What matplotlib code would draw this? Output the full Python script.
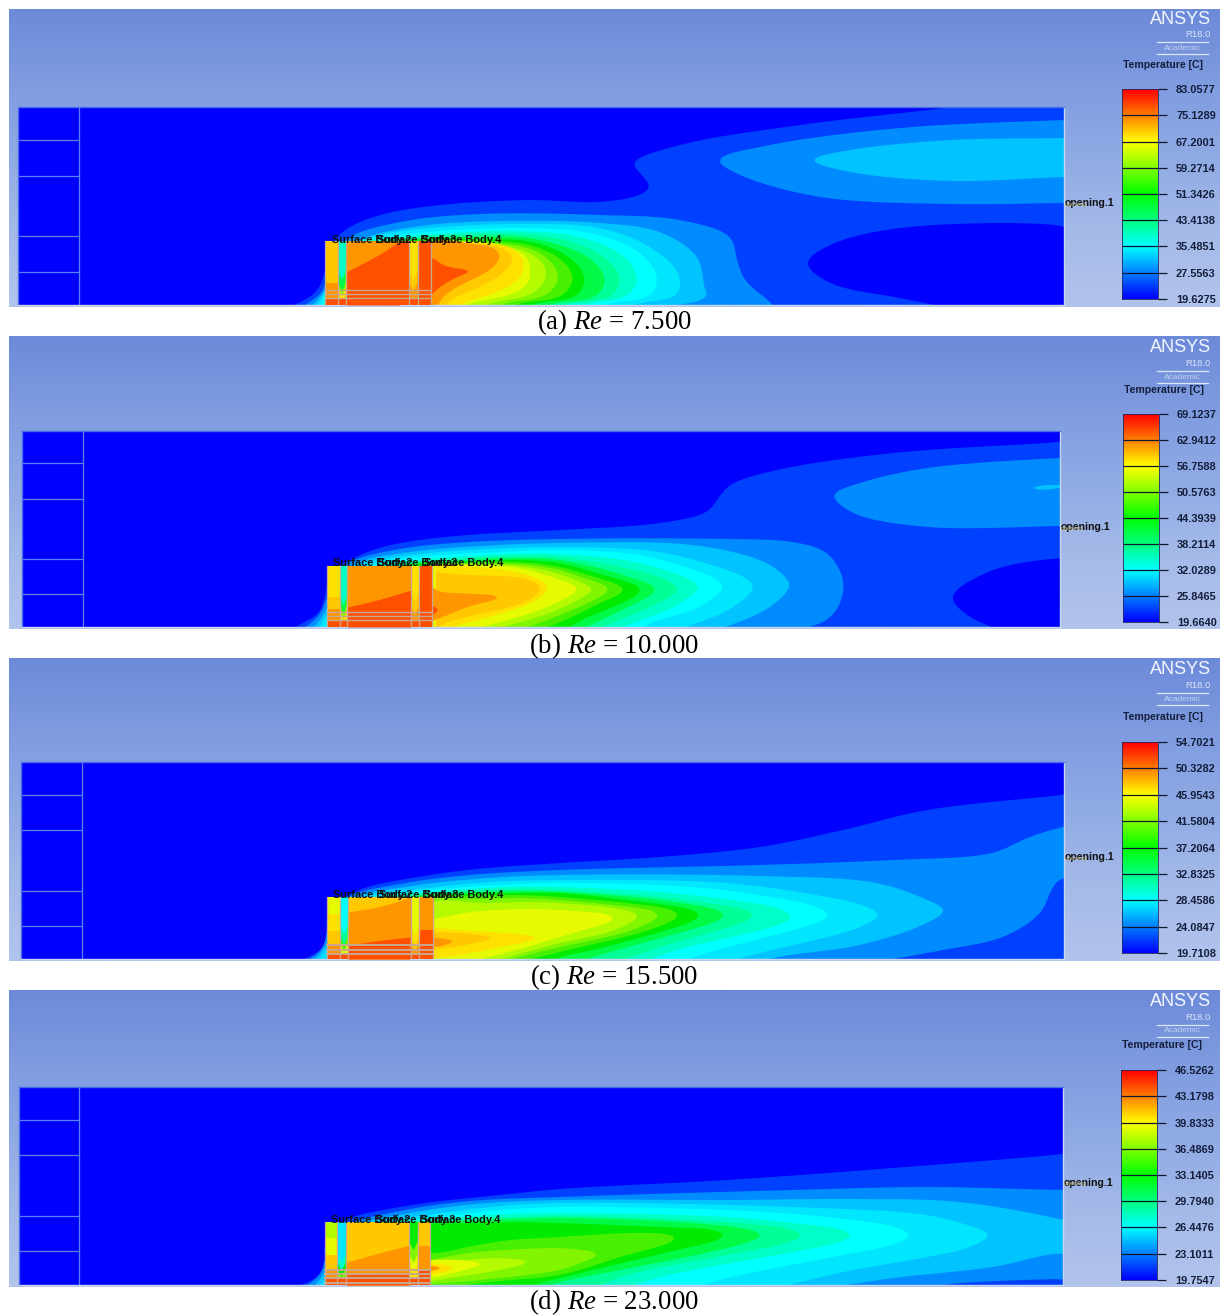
import numpy as np
import matplotlib
matplotlib.use("Agg")
import matplotlib.pyplot as plt
from matplotlib.colors import LinearSegmentedColormap

plt.rcParams['font.family'] = ['Liberation Sans', 'DejaVu Sans']
plt.rcParams['mathtext.fontset'] = 'custom'
plt.rcParams['mathtext.rm'] = 'Liberation Serif'
plt.rcParams['mathtext.it'] = 'Liberation Serif:italic'

W, H = 1220, 1315

# contour band colours, coldest to hottest
band_colors = ['#0000ff', '#0041ff', '#008cff', '#00c3ff', '#00e6ff', '#00ffff',
               '#00ffc8', '#00ff96', '#00fa46', '#00eb00', '#46f000', '#82f500',
               '#b4fa00', '#e6fa00', '#ffe100', '#ffc800', '#ff9600', '#ff5000']

# legend values
ticks_a = [19.6275, 27.5563, 35.4851, 43.4138, 51.3426, 59.2714, 67.2001, 75.1289, 83.0577]
ticks_b = [19.6640, 25.8465, 32.0289, 38.2114, 44.3939, 50.5763, 56.7588, 62.9412, 69.1237]
ticks_c = [19.7108, 24.0847, 28.4586, 32.8325, 37.2064, 41.5804, 45.9543, 50.3282, 54.7021]
ticks_d = [19.7547, 23.1011, 26.4476, 29.7940, 33.1405, 36.4869, 39.8333, 43.1798, 46.5262]

# contours: (band, [(x, height above floor), ...])
curves_a = [
    (1, [(288,-3),(315,12),(324,30),(328,55),(345,75),(380,90),(440,100),(530,105),(600,103),(640,110),(650,118),(640,132),(633,142),(680,160),(800,180),(953,198),(1000,205),(1090,210),(1090,70),(1064,79),(900,77),(830,60),(807,42),(830,22),(900,7),(950,-3)]),
    (2, [(1090,186),(1064,185),(900,177),(770,160),(718,145),(740,130),(820,108),(950,101),(1064,102),(1090,102)]),
    (3, [(1090,168),(1064,167),(950,165),(850,155),(811,145),(850,133),(950,124),(1064,128),(1090,128)]),
    (2, [(300,-3),(322,13),(328,35),(345,65),(400,83),(480,91),(600,90),(680,85),(730,68),(737,45),(745,25),(770,3),(775,-3)]),
    (3, [(310,-3),(325,15),(335,43),(360,65),(420,79),(500,84),(600,82),(660,73),(697,48),(705,15),(708,8),(690,2),(650,-3)]),
    (4, [(316,-3),(328,20),(345,55),(375,69),(430,77),(520,81),(600,77),(650,58),(678,32),(677,10),(640,2),(620,-3)]),
    (5, [(320,-3),(330,25),(350,60),(385,68),(440,74),(520,77),(590,72),(640,52),(657,28),(650,9),(610,2),(595,-3)]),
    (6, [(322,-3),(335,30),(360,62),(400,68),(450,72),(520,74),(580,68),(625,48),(637,25),(625,8),(590,2),(575,-3)]),
    (7, [(340,30),(370,62),(410,67),(460,70),(520,71),(572,63),(608,45),(620,25),(610,8),(570,2),(555,-3)]),
    (8, [(350,30),(380,62),(420,66),(470,68),(520,68),(560,60),(592,45),(605,25),(595,8),(555,2),(540,-3)]),
    (9, [(390,40),(400,62),(430,66),(480,66),(520,65),(550,58),(575,43),(585,25),(575,8),(535,2),(525,-3)]),
    (10, [(400,40),(410,62),(440,65),(490,64),(520,62),(545,55),(565,42),(573,25),(560,8),(520,2),(510,-3)]),
    (11, [(410,40),(420,62),(450,64),(495,62),(525,58),(540,52),(555,38),(558,25),(545,9),(505,2),(495,-3)]),
    (12, [(420,40),(425,62),(455,64),(500,60),(530,52),(545,38),(545,25),(530,10),(490,2),(480,-3)]),
    (13, [(425,40),(430,62),(460,63),(505,58),(525,50),(530,38),(528,22),(510,10),(470,2),(462,-3)]),
    (14, [(425,40),(430,62),(470,63),(510,58),(523,45),(520,28),(495,12),(465,3),(455,-3)]),
    (15, [(425,40),(430,63),(470,62),(505,56),(513,46),(500,30),(475,16),(450,5),(443,-3)]),
    (16, [(425,40),(431,63),(470,61),(495,57),(500,48),(490,35),(465,22),(445,10),(436,-3)]),
    (17, [(425,48),(431,48),(445,39),(470,34),(455,27),(440,18),(431,10),(425,5)]),
]

curves_b = [
    (1, [(292,-3),(300,3),(317,12),(325,30),(330,55),(350,67),(367,75),(400,84),(467,92),(560,97),(660,104),(707,115),(717,127),(730,142),(777,157),(893,174),(1060,185),(1090,188),(1090,70),(1060,69),(993,57),(952,30),(970,10),(1000,-3)]),
    (2, [(1090,170),(1060,169),(927,159),(860,144),(833,132),(853,114),(927,100),(1060,101),(1090,101)]),
    (3, [(1090,143),(1060,142),(1047,142),(1031,139),(1043,137),(1060,139),(1090,139)]),
    (2, [(302,-3),(320,13),(328,32),(345,62),(400,78),(470,85),(560,88),(727,88),(793,85),(827,74),(843,47),(840,24),(827,7),(800,-3)]),
    (3, [(312,-3),(325,15),(335,40),(355,63),(410,75),(480,81),(560,84),(693,82),(760,67),(780,55),(790,42),(780,28),(760,14),(717,-3)]),
    (4, [(318,-3),(328,15),(340,45),(365,63),(420,73),(490,78),(560,80),(660,75),(727,57),(744,50),(754,40),(744,28),(725,15),(677,-3)]),
    (5, [(325,-3),(332,20),(350,50),(375,63),(430,71),(500,75),(560,77),(640,72),(700,55),(714,49),(724,40),(714,30),(695,18),(650,4),(640,-3)]),
    (6, [(335,20),(360,55),(385,63),(440,69),(510,73),(560,73),(630,66),(680,52),(690,47),(700,40),(690,31),(672,19),(630,3),(615,-3)]),
    (7, [(345,20),(370,55),(395,63),(445,67),(515,71),(560,70),(620,60),(660,50),(670,45),(679,38),(670,30),(650,20),(610,3),(595,-3)]),
    (8, [(380,55),(405,63),(450,66),(520,69),(560,67),(610,56),(638,47),(648,44),(657,38),(648,30),(630,21),(595,4),(580,-3)]),
    (9, [(390,55),(415,63),(455,65),(520,67),(560,64),(600,53),(625,46),(634,43),(642,38),(634,30),(615,21),(580,6),(565,-3)]),
    (10, [(400,55),(425,62),(460,64),(520,65),(560,60),(595,50),(617,43),(625,38),(617,31),(600,24),(570,9),(540,-3)]),
    (11, [(410,55),(428,62),(465,63),(520,63),(560,57),(590,47),(603,43),(610,38),(600,30),(560,12),(520,-3)]),
    (12, [(420,55),(430,62),(470,63),(520,61),(560,53),(585,43),(594,38),(585,31),(550,14),(500,-1),(495,-3)]),
    (13, [(425,58),(432,62),(475,62),(520,59),(555,49),(572,43),(579,38),(570,31),(540,17),(490,2),(470,-3)]),
    (14, [(432,62),(480,60),(525,53),(540,47),(548,40),(538,28),(490,10),(455,1),(445,-3)]),
    (15, [(433,55),(467,52),(517,50),(533,46),(541,39),(530,27),(467,10),(440,2),(435,-3)]),
    (16, [(425,56),(436,36),(460,34),(502,30),(467,20),(443,10),(425,3)]),
    (17, [(425,25),(438,17),(425,8)]),
]

curves_c = [
    (1, [(295,-3),(317,6),(325,16),(329,50),(345,62),(367,72),(400,79),(467,89),(560,96),(660,102),(760,112),(843,129),(927,149),(1063,164),(1095,168),(1095,-3)]),
    (2, [(305,-3),(322,10),(328,30),(345,60),(400,75),(470,84),(560,89),(760,94),(893,99),(993,106),(1027,121),(1063,132),(1095,135),(1095,82),(1063,82),(1053,72),(1040,46),(1003,22),(943,9),(877,-3)]),
    (3, [(312,-3),(325,12),(335,38),(352,60),(405,72),(475,80),(560,84),(760,83),(877,76),(927,59),(945,49),(927,36),(860,14),(777,2),(760,-3)]),
    (4, [(318,-3),(328,12),(342,45),(365,62),(420,70),(490,77),(560,79),(727,76),(827,62),(862,54),(880,44),(862,33),(843,26),(760,6),(727,-3)]),
    (5, [(325,-3),(332,12),(350,50),(378,62),(430,69),(500,74),(560,76),(693,72),(777,61),(814,53),(830,44),(814,35),(793,29),(710,7),(677,-3)]),
    (6, [(335,20),(360,55),(388,62),(440,68),(510,72),(560,72),(660,67),(753,56),(778,51),(793,42),(778,34),(753,27),(677,9),(643,-3)]),
    (7, [(345,20),(370,55),(398,62),(450,67),(515,70),(560,69),(660,62),(727,53),(744,50),(755,44),(744,37),(720,29),(660,12),(617,-3)]),
    (8, [(380,55),(408,62),(455,66),(520,68),(560,67),(643,61),(700,53),(715,50),(726,44),(715,37),(693,30),(643,16),(593,2),(580,-3)]),
    (9, [(390,55),(415,62),(460,65),(520,66),(560,66),(643,57),(680,52),(691,50),(701,44),(691,37),(660,27),(593,9),(560,2),(548,-3)]),
    (10, [(400,55),(425,62),(465,63),(520,64),(560,62),(627,56),(660,52),(670,50),(680,44),(670,37),(643,27),(577,11),(560,7),(520,-3)]),
    (11, [(410,55),(430,61),(470,60),(520,61),(560,59),(613,54),(640,51),(651,49),(660,44),(651,37),(627,27),(560,12),(500,-3)]),
    (12, [(425,50),(432,58),(480,56),(530,57),(560,56),(607,52),(630,48),(640,43),(630,36),(610,27),(560,16),(490,-3)]),
    (13, [(425,40),(434,40),(470,47),(530,50),(560,49),(587,47),(608,45),(616,41),(608,36),(590,31),(560,22),(520,10),(470,-3)]),
    (14, [(425,32),(470,28),(520,25),(540,21),(510,14),(470,6),(440,1),(425,1)]),
    (15, [(425,27),(460,26),(493,21),(470,15),(440,10),(425,8)]),
    (16, [(425,22),(445,20),(453,18),(445,14),(425,11)]),
]

curves_d = [
    (1, [(293,-3),(313,5),(323,17),(327,50),(350,67),(383,75),(433,83),(500,90),(560,96),(727,105),(893,117),(1063,131),(1095,135),(1095,-3)]),
    (2, [(303,-3),(320,10),(326,28),(345,58),(400,74),(470,84),(560,88),(793,95),(927,98),(1063,95),(1095,95),(1095,5),(1063,6),(950,1),(927,-3)]),
    (3, [(313,-3),(324,12),(333,35),(352,58),(405,71),(475,81),(560,85),(727,85),(860,86),(960,83),(1063,65),(1095,55),(1095,25),(1063,32),(993,18),(893,7),(827,-3)]),
    (4, [(319,-3),(328,12),(340,42),(365,60),(420,69),(490,78),(560,82),(793,78),(927,70),(967,60),(990,50),(967,37),(927,28),(843,13),(777,-3)]),
    (5, [(325,-3),(331,12),(347,48),(378,61),(430,67),(500,75),(560,78),(727,75),(827,68),(895,58),(911,50),(895,41),(843,30),(727,7),(693,-3)]),
    (6, [(335,20),(358,52),(388,62),(440,66),(510,71),(560,72),(727,68),(810,60),(840,56),(853,50),(840,43),(793,33),(660,8),(627,-3)]),
    (7, [(345,20),(368,52),(398,62),(450,65),(515,68),(560,69),(693,65),(790,56),(803,50),(790,43),(743,33),(627,10),(593,-3)]),
    (8, [(380,52),(408,62),(455,64),(520,66),(560,67),(677,63),(752,55),(763,50),(752,44),(710,33),(610,13),(560,3),(540,-3)]),
    (9, [(390,52),(415,60),(460,62),(520,63),(560,62),(660,58),(715,55),(726,50),(715,44),(677,35),(560,7),(520,-3)]),
    (10, [(425,32),(440,32),(467,38),(510,45),(560,48),(627,52),(667,51),(678,47),(667,41),(627,30),(560,10),(500,4),(440,-3)]),
    (11, [(425,24),(440,27),(467,32),(560,37),(583,35),(600,31),(583,23),(560,15),(500,7),(445,2),(425,1)]),
    (12, [(425,22),(443,23),(500,27),(530,23),(500,15),(450,7),(425,3)]),
    (13, [(425,25),(460,25),(482,21),(465,15),(440,9),(425,6)]),
    (14, [(425,22),(445,20),(453,17),(445,13),(425,10)]),
    (16, [(425,20),(440,17),(425,12)]),
]

# block interior: slab stacks (top height, band), tapered channels (band, tip height)
slab_left = [[(64,15),(22,16),(7,17)], [(61,14),(30,15),(18,16),(7,17)],
             [(62,13),(45,14),(28,15),(15,16),(5,17)], [(63,12),(47,13),(30,15),(16,16),(5,17)]]
slab_right = [[(64,17)], [(61,17)], [(62,16),(29,17)], [(63,15),(39,16),(15,17)]]
chan_one = [[(14,0),(11,9),(8,14),(6,25)], [(14,0),(11,8),(8,13),(6,22)],
            [(13,0),(10,8),(7,14),(5,25)], [(11,0),(9,8),(6,14),(4,22)]]
chan_two = [[(16,0),(15,14),(14,25)], [(16,0),(15,12),(14,25)],
            [(16,0),(15,7),(14,14),(13,24)], [(14,0),(13,14),(11,22),(9,35)]]
body_fill = [
    [(16, None), (17, [(346,33),(380,51),(400,64),(412,70)])],
    [(16, None), (17, [(347,20),(377,27),(411,37)])],
    [(15, None), (16, [(348,47),(377,52),(407,61),(415,66)]), (17, [(348,14),(383,19),(410,22)])],
    [(15, None), (16, [(346,23),(383,33),(410,40)]), (17, [(346,10),(410,13)])],
]
line_heights = [[15,11,7], [15,11,7], [14,9,5], [15,11,7,2]]


def catmull(points, n=14):
    # centripetal catmull-rom through the read points
    p = np.array(points, dtype=float)
    p = np.vstack([2*p[0]-p[1], p, 2*p[-1]-p[-2]])
    out = []
    for i in range(1, len(p)-2):
        p0, p1, p2, p3 = p[i-1], p[i], p[i+1], p[i+2]
        t0 = 0.0
        t1 = t0 + max(np.linalg.norm(p1-p0), 1e-3)**0.5
        t2 = t1 + max(np.linalg.norm(p2-p1), 1e-3)**0.5
        t3 = t2 + max(np.linalg.norm(p3-p2), 1e-3)**0.5
        for t in np.linspace(t1, t2, n, endpoint=False):
            a1 = (t1-t)/(t1-t0)*p0 + (t-t0)/(t1-t0)*p1
            a2 = (t2-t)/(t2-t1)*p1 + (t-t1)/(t2-t1)*p2
            a3 = (t3-t)/(t3-t2)*p2 + (t-t2)/(t3-t2)*p3
            b1 = (t2-t)/(t2-t0)*a1 + (t-t0)/(t2-t0)*a2
            b2 = (t3-t)/(t3-t1)*a2 + (t-t1)/(t3-t1)*a3
            out.append((t2-t)/(t2-t1)*b1 + (t-t1)/(t2-t1)*b2)
    out.append(p[-2])
    return np.array(out)


def smooth(points, window=30):
    # spline, then round the tips a bit so the plumes don't come out pointed
    c = catmull(points)
    step = np.hypot(np.diff(c[:, 0]), 2.5*np.diff(c[:, 1]))
    s = np.concatenate([[0], np.cumsum(step)])
    keep = np.concatenate([[True], step > 0])
    c, s = c[keep], s[keep]
    grid = np.arange(0, s[-1], 1.0)
    x = np.interp(grid, s, c[:, 0])
    y = np.interp(grid, s, c[:, 1])
    w = int(min(window, max(len(grid)//8, 1)))
    if w > 2:
        k = np.ones(w)/w
        x = np.convolve(np.pad(x, w, mode='edge'), k, mode='same')[w:-w]
        y = np.convolve(np.pad(y, w, mode='edge'), k, mode='same')[w:-w]
    return np.column_stack([x, y])


def draw_block(ax, i, geo):
    x0, c1l, c1r, c2l, c2r, x1, top = geo
    # slabs
    for stack, xa, xb in [(slab_left[i], x0, c1l), (slab_right[i], c2r, x1)]:
        for h, band in stack:
            ax.fill_between([xa, xb], 0, h, color=band_colors[band], lw=0, zorder=3)
    # main body
    for band, edge in body_fill[i]:
        if edge is None:
            ax.fill_between([c1r, c2l], 0, top, color=band_colors[band], lw=0, zorder=3)
        else:
            e = catmull(edge)
            e = e[e[:, 1] <= top]
            ax.fill_between(e[:, 0], 0, e[:, 1], color=band_colors[band], lw=0, zorder=3)
            if edge[-1][1] > top:
                ax.fill_between([e[-1, 0], c2l], 0, top, color=band_colors[band], lw=0, zorder=3)
    # channels narrowing to a tip
    for stack, xa, xb in [(chan_one[i], c1l, c1r), (chan_two[i], c2l, c2r)]:
        mid = (xa+xb)/2
        for band, tip in stack:
            if tip == 0:
                ax.fill_between([xa, xb], 0, top, color=band_colors[band], lw=0, zorder=3)
            else:
                ax.fill([xa, xb, xb-0.5, mid, xa+0.5], [top, top, tip+8, tip, tip+8],
                        color=band_colors[band], lw=0, zorder=3)
    # base plate and partition lines
    ax.fill_between([x0, x1], 0, line_heights[i][2], color=band_colors[17], lw=0, zorder=3)
    grey = '#c8a890'
    lw = 1.0 if i < 2 else 1.4
    for h in line_heights[i]:
        ax.plot([x0, x1], [h, h], color=grey, lw=lw, zorder=4)
    for x in [x0, c1l, c1r, c2l, c2r, x1]:
        ax.plot([x, x], [0, top], color=grey, lw=0.9, zorder=4)


# layout in picture pixels
domains = [(18, 1064, 107, 305), (22, 1060, 431, 627), (21, 1064, 762, 959), (19, 1063, 1087, 1285)]
inlet_x = [79, 83, 82, 79]
inlet_h = [[165, 129, 69, 33], [164, 128, 68, 33], [164, 129, 68, 33], [165, 130, 69, 34]]
blocks = [(325, 338, 346, 409, 418, 431, 64), (327, 340, 347, 411, 419, 432, 61),
          (327, 340, 348, 411, 419, 433, 62), (325, 337, 346, 409, 418, 430, 63)]
panel_rows = [(9, 307), (336, 629), (658, 961), (990, 1287)]
bars = [(1122, 1158, 89, 299), (1123, 1159, 414, 622), (1122, 1158, 742, 953), (1121, 1157, 1070, 1280)]
logo_y = [(19, 34, 48, 65), (347, 363, 377, 390), (669, 685, 699, 717), (1001, 1017, 1031, 1045)]
captions = ['(a)', '(b)', '(c)', '(d)']
reynolds = ['7.500', '10.000', '15.500', '23.000']
caption_y = [322, 646, 977, 1302]
body_x = [(332, 377, 422), (333, 378, 424), (333, 379, 424), (331, 376, 421)]
body_y = [240, 563, 895, 1220]
open_y = [203, 527, 857, 1183]
all_curves = [curves_a, curves_b, curves_c, curves_d]
all_ticks = [ticks_a, ticks_b, ticks_c, ticks_d]

fig = plt.figure(figsize=(W/100, H/100), dpi=100, facecolor='white')
bg = fig.add_axes([0, 0, 1, 1], zorder=0)
bg.set_xlim(0, W)
bg.set_ylim(H, 0)
bg.axis('off')
over = fig.add_axes([0, 0, 1, 1], zorder=5)
over.set_xlim(0, W)
over.set_ylim(H, 0)
over.axis('off')
over.patch.set_alpha(0)

sky = LinearSegmentedColormap.from_list('sky', ['#6c8ad8', '#7f9ce0', '#90aae4', '#a4bae8', '#b2c4ec'])
rainbow = LinearSegmentedColormap.from_list('rainbow_ansys', ['#0000ff', '#00ffff', '#00ff00', '#ffff00', '#ff0000'])
dark = '#141e3c'


def rect_axes(x0, x1, ytop, ybot, z):
    return fig.add_axes([x0/W, 1-ybot/H, (x1-x0)/W, (ybot-ytop)/H], zorder=z)


for i in range(4):
    top, bottom = panel_rows[i]
    bg.imshow(np.linspace(0, 1, 256)[:, None], cmap=sky, aspect='auto', extent=(9, W, bottom, top))

    x0, x1, ytop, yfloor = domains[i]
    ax = rect_axes(x0, x1, ytop, yfloor, 2)
    ax.set_xlim(x0, x1)
    ax.set_ylim(0, yfloor-ytop)
    ax.set_facecolor(band_colors[0])
    ax.set_xticks([])
    ax.set_yticks([])
    for side, col in [('top', '#4a6ee6'), ('left', '#4a6ee6'), ('right', '#c8d6f0'), ('bottom', '#c8d6f0')]:
        ax.spines[side].set_color(col)
        ax.spines[side].set_linewidth(1.0)

    for band, pts in all_curves[i]:
        s = smooth(pts)
        # curves that end on the floor close along it
        if pts[-1][1] <= 4:
            s = np.vstack([s, [s[-1, 0], -10], [s[0, 0], -10]])
        ax.fill(s[:, 0], s[:, 1], color=band_colors[band], lw=0, zorder=2)

    for h in inlet_h[i]:
        ax.plot([x0, inlet_x[i]], [h, h], color='#5a82f0', lw=0.9, zorder=2.5)
    ax.plot([inlet_x[i], inlet_x[i]], [0, yfloor-ytop], color='#5a82f0', lw=0.9, zorder=2.5)
    draw_block(ax, i, blocks[i])

    # legend
    bx0, bx1, by0, by1 = bars[i]
    cb = rect_axes(bx0, bx1, by0, by1, 3)
    vals = all_ticks[i]
    cb.imshow(np.linspace(1, 0, 256)[:, None], cmap=rainbow, aspect='auto',
              extent=(0, 1, vals[0], vals[-1]))
    cb.set_xticks([])
    cb.yaxis.tick_right()
    cb.set_yticks(vals)
    cb.set_yticklabels([f'{v:.4f}' for v in vals], fontsize=7.9, fontweight='bold', color=dark)
    cb.tick_params(axis='y', length=6.5, width=0.9, color='#101830', pad=6.5)
    for v in vals[1:-1]:
        cb.axhline(v, color='#101830', lw=0.9)
    for s in cb.spines.values():
        s.set_color('#202a60')
        s.set_linewidth(0.6)

    # logo block
    ya, yr, yc, yt = logo_y[i]
    over.text(1211, ya, 'ANSYS', color='#f2f6ff', fontsize=13, ha='right', va='center')
    over.text(1210, yr, 'R18.0', color='#d8e2f8', fontsize=6.8, ha='right', va='center')
    over.text(1182, yc, 'Academic', color='#c4d2f0', fontsize=6, ha='center', va='center')
    over.plot([1157, 1208], [yc-6, yc-6], color='#dce6fa', lw=0.9)
    over.plot([1157, 1208], [yc+6, yc+6], color='#dce6fa', lw=0.9)
    over.text(bx0+1, yt, 'Temperature [C]', color=dark, fontsize=7.6, fontweight='bold', ha='left', va='center')

    # boundary names sit on top of each other, as in the original
    for bx, num in zip(body_x[i], ['2', '3', '4']):
        over.text(bx, body_y[i], 'Surface Body.'+num, color='#101010', fontsize=7.9, fontweight='bold',
                  ha='left', va='center')
    over.text(x1+1, open_y[i], 'opening.1', color='#101010', fontsize=7.6, fontweight='bold', ha='left', va='center')
    over.text(x1+1, open_y[i]+1, 'opening', color='#c8b878', fontsize=4.5, ha='left', va='center')

    over.text(614, caption_y[i], captions[i]+r' $\mathit{Re}$ = '+reynolds[i], color='black',
              fontsize=19.4, family='Liberation Serif', ha='center', va='center')

fig.savefig('out.png', dpi=100)
